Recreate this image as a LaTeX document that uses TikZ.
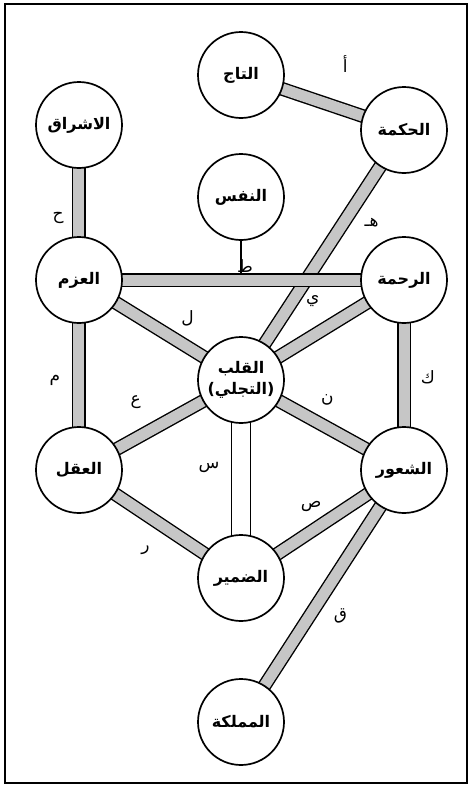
\documentclass[tikz,border=0pt]{standalone}
\usepackage{fontspec}
\newfontfamily\arabicfont[Script=Arabic]{DejaVu Sans}
\TeXXeTstate=1
\newcommand{\artext}[1]{\beginR#1\endR}
\tikzstyle{every path}+=[thick]
\tikzstyle{sefira}=[circle,draw,fill=white,line width=1.7pt,minimum size=86pt,inner sep=0pt,align=center,font=\arabicfont\bfseries\fontsize{16}{21}\selectfont]
\tikzstyle{channel}=[draw,line width=1.4pt,double=gray!45,double distance=11pt]
\tikzstyle{openchannel}=[channel,double=white,double distance=18pt]
\tikzstyle{abjad}=[inner sep=0pt,font=\arabicfont\fontsize{17}{20}\selectfont]
\usetikzlibrary{positioning,backgrounds}

\begin{document}
\begin{tikzpicture}[on grid]

\useasboundingbox (-79pt,280pt) rectangle (392pt,-508pt);
\draw[line width=1.5pt] (-74pt,276pt) rectangle (388pt,-503pt);

\node[sefira] (azm) {\artext{العزم}};
\node[sefira, right=325pt of azm] (rahma) {\artext{الرحمة}};
\node[sefira, below=190pt of azm] (aql) {\artext{العقل}};
\node[sefira, below=190pt of rahma] (shuur) {\artext{الشعور}};
\node[sefira, above=155pt of azm] (ishraq) {\artext{الاشراق}};
\node[sefira, below right=100pt and 162pt of azm] (qalb) {\artext{القلب}\\\artext{(التجلي)}};
\node[sefira, above=183pt of qalb] (nafs) {\artext{النفس}};
\node[sefira, above=122pt of nafs] (taj) {\artext{التاج}};
\node[sefira, above=150pt of rahma] (hikma) {\artext{الحكمة}};
\node[sefira, below=198pt of qalb] (damir) {\artext{الضمير}};
\node[sefira, below=144pt of damir] (mamlaka) {\artext{المملكة}};

\coordinate (tjoin) at ([yshift=7pt]nafs |- azm);

\begin{scope}[on background layer]
\draw[line width=1.4pt] (nafs.center) -- (tjoin) node[abjad, anchor=south, xshift=4pt] {\artext{ط}};
\draw[channel] (taj.center) -- node[abjad, pos=0.64, yshift=46pt] {\artext{أ}} (hikma.center);
\draw[channel] (hikma.center) -- node[abjad, pos=0.37, xshift=28pt] {\artext{هـ}} (qalb.center);
\draw[channel] (azm.center) -- (rahma.center);
\draw[channel] (ishraq.center) -- node[abjad, pos=0.6, xshift=-21pt] {\artext{ح}} (azm.center);
\draw[channel] (rahma.center) -- node[abjad, pos=0.56, yshift=35pt] {\artext{ي}} (qalb.center);
\draw[channel] (azm.center) -- node[abjad, pos=0.67, yshift=29pt] {\artext{ل}} (qalb.center);
\draw[channel] (rahma.center) -- node[abjad, pos=0.51, xshift=24pt] {\artext{ك}} (shuur.center);
\draw[channel] (azm.center) -- node[abjad, pos=0.53, xshift=-24pt] {\artext{م}} (aql.center);
\draw[channel] (aql.center) -- node[abjad, pos=0.35, yshift=36pt] {\artext{ع}} (qalb.center);
\draw[channel] (qalb.center) -- node[abjad, pos=0.53, yshift=28pt] {\artext{ن}} (shuur.center);
\draw[openchannel] (qalb.center) -- node[abjad, pos=0.44, xshift=-32pt] {\artext{س}} (damir.center);
\draw[channel] (aql.center) -- node[abjad, pos=0.41, yshift=-36pt] {\artext{ر}} (damir.center);
\draw[channel] (shuur.center) -- node[abjad, pos=0.57, yshift=25pt] {\artext{ص}} (damir.center);
\draw[channel] (shuur.center) -- node[abjad, pos=0.58, xshift=31pt] {\artext{ق}} (mamlaka.center);
\end{scope}

\end{tikzpicture}
\end{document}
